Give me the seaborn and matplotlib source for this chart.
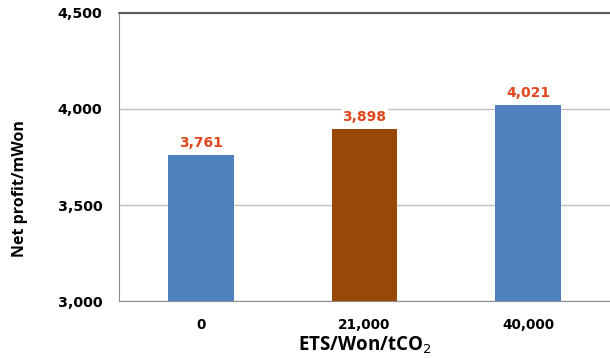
import matplotlib
matplotlib.use("Agg")
import matplotlib.pyplot as plt
import seaborn as sns
import pandas as pd

# data
categories = ["0", "21,000", "40,000"]
profits = [3761, 3898, 4021]
bar_colors = ["#4F81BD", "#984807", "#4F81BD"]
yticks = [3000, 3500, 4000, 4500]

df = pd.DataFrame({"ETS": categories, "Profit": profits})

sns.set_style("white")
plt.rcParams["font.family"] = ["DejaVu Sans"]
plt.rcParams["text.color"] = "black"
plt.rcParams["axes.labelcolor"] = "black"
plt.rcParams["xtick.color"] = "black"
plt.rcParams["ytick.color"] = "black"

fig = plt.figure(figsize=(6.1, 3.58), dpi=100)
ax = fig.add_axes([0.195, 0.159, 0.805, 0.805])

sns.barplot(data=df, x="ETS", y="Profit", hue="ETS", palette=bar_colors,
            width=0.4, saturation=1, legend=False, ax=ax, zorder=3,
            edgecolor="none")

ax.set_ylim(3000, 4500)
ax.set_xlim(-0.5, 2.5)
ax.set_yticks(yticks)
ax.set_yticklabels([f"{v:,}" for v in yticks], fontsize=10.3, fontweight="bold")
ax.yaxis.grid(True, color="#BEBEBE", linewidth=1, zorder=0)
ax.set_axisbelow(True)

# category boundary ticks on x axis
ax.set_xticks([-0.5, 0.5, 1.5, 2.5], minor=True)
ax.tick_params(axis="x", which="minor", length=5, color="#8C8C8C", width=1)
ax.tick_params(axis="x", which="major", length=0, pad=12)
ax.tick_params(axis="y", length=6, color="#8C8C8C", width=1, pad=6)
for lbl in ax.get_xticklabels():
    lbl.set_fontsize(9.8)
    lbl.set_fontweight("bold")

for side in ["top", "right"]:
    ax.spines[side].set_visible(False)
ax.spines["left"].set_color("#8C8C8C")
ax.spines["bottom"].set_color("#8C8C8C")
ax.axhline(4500, color="#595959", linewidth=1.5, zorder=4, clip_on=False)

for i, v in enumerate(profits):
    ax.text(i, v + 25, f"{v:,}", ha="center", va="bottom", fontsize=10,
            fontweight="bold", color="#E2461C",
            bbox=dict(facecolor="white", edgecolor="none", pad=1), zorder=5)

ax.set_xlabel("ETS/Won/tCO$_2$", fontsize=13.5, fontweight="bold",
              family=["Open Sans"], labelpad=2)
ax.set_ylabel("Net profit/mWon", fontsize=11.5, fontweight="bold",
              family=["Open Sans"])
ax.yaxis.set_label_coords(-0.186, 0.392)

fig.savefig("out.png", dpi=100)
